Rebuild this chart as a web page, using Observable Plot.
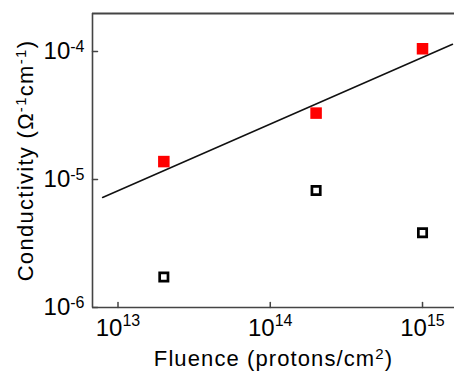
<!DOCTYPE html>
<html><head><meta charset="utf-8">
<script src="https://cdn.jsdelivr.net/npm/d3@7"></script>
<script src="https://cdn.jsdelivr.net/npm/@observablehq/plot@0.6"></script>
<style>body{margin:0;background:#fff}</style>
</head><body><div id="chart"></div>
<script>
const fluence = [2e13, 2e14, 1e15];
const condFilled = [1.38e-5, 3.30e-5, 1.05e-4];
const condOpen = [1.73e-6, 8.2e-6, 3.84e-6];
const fitFluence = [7.92e12, 1.574e15];
const fitCond = [7.23e-6, 1.14e-4];
const xTicks = [1e13, 1e14, 1e15];
const yTicks = [1e-6, 1e-5, 1e-4];
const xTickLabels = ["10^13", "10^14", "10^15"];
const yTickLabels = ["10^-6", "10^-5", "10^-4"];
const xDomain = [6.80e12, 1.622e15];
const yDomain = [1e-6, 1.98e-4];
const xLabel = "Fluence (protons/cm^2)";
const yLabel = "Conductivity (Ω^-1cm^-1)";

const filledPts = fluence.map((x, i) => ({x, y: condFilled[i]}));
const openPts = fluence.map((x, i) => ({x, y: condOpen[i]}));
const fitPts = fitFluence.map((x, i) => ({x, y: fitCond[i]}));

const axisColor = "#444";
const tickShape = {draw(ctx, l) { ctx.moveTo(0, 0); ctx.lineTo(0, -l); }};

const chart = Plot.plot({
  width: 454, height: 373,
  marginLeft: 92, marginRight: 0, marginTop: 13, marginBottom: 66,
  style: {fontFamily: "'Liberation Sans', Arial, sans-serif", color: "black", background: "white"},
  x: {type: "log", domain: xDomain},
  y: {type: "log", domain: yDomain},
  marks: [
    Plot.ruleY([yDomain[1]], {stroke: axisColor, strokeWidth: 1.8}),
    Plot.ruleY([yDomain[0]], {stroke: axisColor, strokeWidth: 1.6}),
    Plot.ruleX([xDomain[0]], {stroke: axisColor, strokeWidth: 1.6}),
    Plot.vector(xTicks, {x: d => d, frameAnchor: "bottom", length: 5, anchor: "start", shape: tickShape, stroke: axisColor, strokeWidth: 1.5}),
    Plot.vector(yTicks, {y: d => d, frameAnchor: "left", length: 5, rotate: 90, anchor: "start", shape: tickShape, stroke: axisColor, strokeWidth: 1.5}),
    Plot.axisX({ticks: xTicks, tickSize: 0, tickPadding: 11, tickFormat: d => xTickLabels[xTicks.indexOf(d)], fontSize: 24,
      label: xLabel, labelAnchor: "center", labelOffset: 58, labelArrow: "none"}),
    Plot.axisY({ticks: yTicks, tickSize: 0, tickPadding: 8, tickFormat: d => yTickLabels[yTicks.indexOf(d)], fontSize: 24,
      label: yLabel, labelAnchor: "center", labelOffset: 75, labelArrow: "none"}),
    Plot.line(fitPts, {x: "x", y: "y", stroke: "#111", strokeWidth: 1.5}),
    Plot.dot(openPts, {x: "x", y: "y", symbol: "square", r: 4.7, stroke: "black", strokeWidth: 2.7, fill: "none"}),
    Plot.dot(filledPts, {x: "x", y: "y", symbol: "square", r: 6.5, fill: "#ff0000", stroke: "none"})
  ]
});
document.getElementById("chart").appendChild(chart);

function supify(text, supSize, raise) {
  const s = text.textContent;
  const parts = s.split(/\^(-?\d+)/);
  text.textContent = "";
  parts.forEach((p, i) => {
    if (!p) return;
    const t = document.createElementNS("http://www.w3.org/2000/svg", "tspan");
    t.textContent = p;
    if (i % 2 === 1) { t.setAttribute("font-size", supSize); t.setAttribute("dy", -raise); }
    else if (i > 0) t.setAttribute("dy", raise);
    text.appendChild(t);
  });
}
chart.querySelectorAll('g[aria-label="x-axis tick label"] text').forEach(t => supify(t, 16, 10));
chart.querySelectorAll('g[aria-label="y-axis tick label"] text').forEach(t => supify(t, 16, 7));
chart.querySelectorAll('g[aria-label="x-axis label"] text').forEach(t => {
  t.style.fontSize = "22px";
  t.style.letterSpacing = "1.1px";
  supify(t, 15, 7);
});
chart.querySelectorAll('g[aria-label="y-axis label"] text').forEach(t => {
  t.style.fontSize = "22px";
  t.style.letterSpacing = "1.3px";
  supify(t, 15, 7);
});
</script>
</body></html>
